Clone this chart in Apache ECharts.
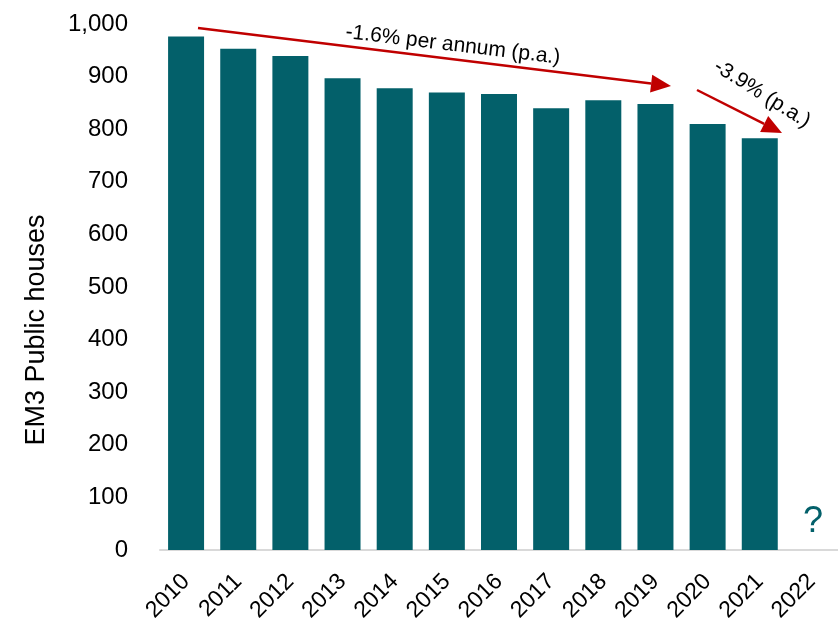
<!DOCTYPE html>
<html><head><meta charset="utf-8">
<script src="https://cdn.jsdelivr.net/npm/echarts@6/dist/echarts.min.js"></script>
<style>html,body{margin:0;padding:0;background:#fff}#c{width:838px;height:633px}</style>
</head><body><div id="c"></div>
<script>
const years = ['2010','2011','2012','2013','2014','2015','2016','2017','2018','2019','2020','2021','2022'];
const pubs = [976, 953, 939, 897, 878, 870, 867, 840, 855, 848, 810, 783, null];
const yTicks = [0, 100, 200, 300, 400, 500, 600, 700, 800, 900, 1000];
const FONT = '"Liberation Sans Narrow", "Arial Narrow", "Liberation Sans", Arial, sans-serif';
const RED = '#C00000';
const TEAL = '#03606A';

function arrow(x1, y1, x2, y2, len, half) {
  const dx = x2 - x1, dy = y2 - y1, L = Math.hypot(dx, dy);
  const ux = dx / L, uy = dy / L, px = -uy, py = ux;
  const bx = x2 - ux * len, by = y2 - uy * len;
  return [
    {type: 'line', shape: {x1, y1, x2: bx, y2: by}, style: {stroke: RED, lineWidth: 2.5}},
    {type: 'polygon', shape: {points: [[x2, y2], [bx + px * half, by + py * half], [bx - px * half, by - py * half]]}, style: {fill: RED}}
  ];
}

const chart = echarts.init(document.getElementById('c'));
chart.setOption({
  animation: false,
  grid: {left: 160, right: 0, top: 24, bottom: 83},
  xAxis: {
    type: 'category', data: years,
    axisLine: {lineStyle: {color: '#d9d9d9', width: 2}},
    axisTick: {show: false},
    axisLabel: {rotate: 45, color: '#000', fontSize: 23, fontFamily: FONT, margin: 28, interval: 0}
  },
  yAxis: {
    type: 'value', min: 0, max: 1000, interval: 100,
    axisLine: {show: false}, axisTick: {show: false}, splitLine: {show: false},
    axisLabel: {color: '#000', fontSize: 24, fontFamily: FONT, margin: 32,
      formatter: v => yTicks.includes(v) ? v.toLocaleString('en-US') : ''}
  },
  series: [{
    type: 'bar', data: pubs, barCategoryGap: '31%',
    itemStyle: {color: TEAL}
  }],
  graphic: [
    {type: 'text', x: 37, y: 330, rotation: Math.PI / 2,
      style: {text: 'EM3 Public houses', font: '27px ' + FONT, fill: '#000', textAlign: 'center', textVerticalAlign: 'middle'}},
    ...arrow(198, 28, 671, 86, 20, 9),
    ...arrow(697, 90, 782, 133, 20, 9),
    {type: 'text', x: 453, y: 45, rotation: -0.12,
      style: {text: '-1.6% per annum (p.a.)', font: '21px ' + FONT, fill: '#000', textAlign: 'center', textVerticalAlign: 'middle'}},
    {type: 'text', x: 762, y: 94, rotation: -0.56,
      style: {text: '-3.9% (p.a.)', font: '21px ' + FONT, fill: '#000', textAlign: 'center', textVerticalAlign: 'middle'}},
    {type: 'text', x: 813, y: 522,
      style: {text: '?', font: '36px ' + FONT, fill: TEAL, textAlign: 'center', textVerticalAlign: 'middle'}}
  ]
});
</script></body></html>
